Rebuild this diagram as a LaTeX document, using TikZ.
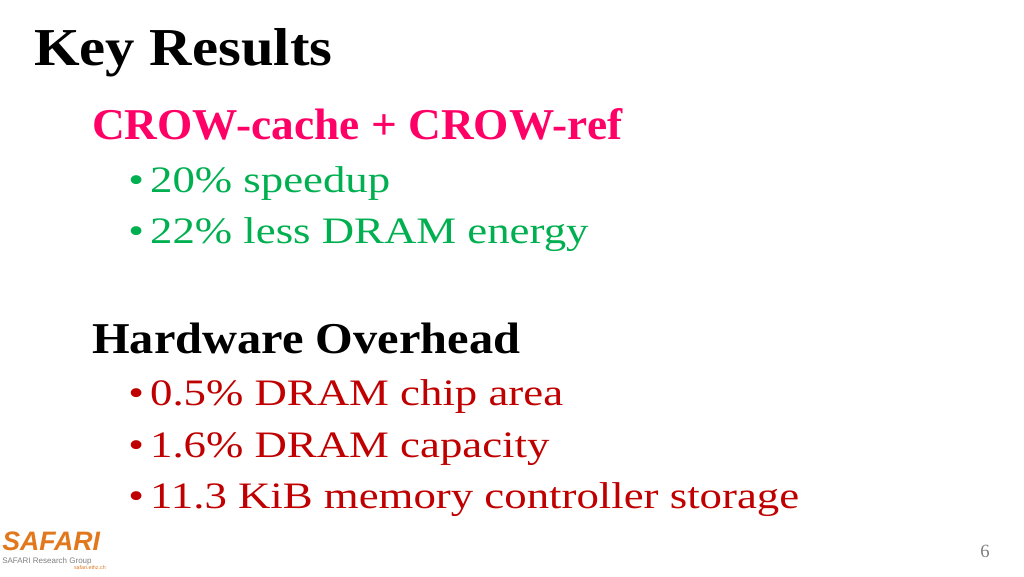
\documentclass[tikz,border=0pt]{standalone}
\usepackage{fontspec}
\setmainfont{Liberation Serif}
\setsansfont{Liberation Sans}
\newfontfamily\bodyfont[FakeStretch=1.2]{Liberation Serif}
\newfontfamily\headfont[FakeStretch=1.1]{Liberation Serif}
\newfontfamily\crowfont[FakeStretch=1.03]{Liberation Serif}
\definecolor{crowpink}{RGB}{255,0,102}
\definecolor{gaingreen}{RGB}{0,176,80}
\definecolor{costred}{RGB}{192,0,0}
\definecolor{safariorange}{RGB}{226,120,30}
\begin{document}
\begin{tikzpicture}[x=0.75pt,y=-0.75pt,
  heading/.style={anchor=base west,inner sep=0pt,font=\headfont\fontsize{33}{36}\selectfont\bfseries},
  item/.style={anchor=base west,inner sep=0pt,font=\bodyfont\fontsize{28}{32}\selectfont}]
\useasboundingbox[fill=white] (0,0) rectangle (1024,576);
\node[heading,font=\headfont\fontsize{40}{42}\selectfont\bfseries] (title) at (34,65) {Key Results};
\node[heading,crowpink,font=\crowfont\fontsize{33}{36}\selectfont\bfseries] (crow) at (92,139) {CROW-cache + CROW-ref};
\node[item,gaingreen] (speed) at (128,192) {\textbullet\,20\% speedup};
\node[item,gaingreen] (energy) at (128,243) {\textbullet\,22\% less DRAM energy};
\node[heading] (hw) at (92,353) {Hardware Overhead};
\node[item,costred] (area) at (128,405) {\textbullet\,0.5\% DRAM chip area};
\node[item,costred] (cap) at (128,457) {\textbullet\,1.6\% DRAM capacity};
\node[item,costred] (mc) at (128,508) {\textbullet\,11.3 KiB memory controller storage};
\node[anchor=base west,inner sep=0pt,safariorange,font=\sffamily\bfseries\itshape\fontsize{20}{20}\selectfont] (logo) at (2,550) {SAFARI};
\node[anchor=north west,inner sep=0pt,gray,font=\sffamily\fontsize{6}{6}\selectfont] (group) at (2,557) {SAFARI Research Group};
\node[anchor=north east,inner sep=0pt,safariorange,font=\sffamily\fontsize{4}{4}\selectfont] (url) at (106,565) {safari.ethz.ch};
\node[anchor=base,inner sep=0pt,gray,font=\fontsize{14}{14}\selectfont] (page) at (985,557) {6};
\end{tikzpicture}
\end{document}
